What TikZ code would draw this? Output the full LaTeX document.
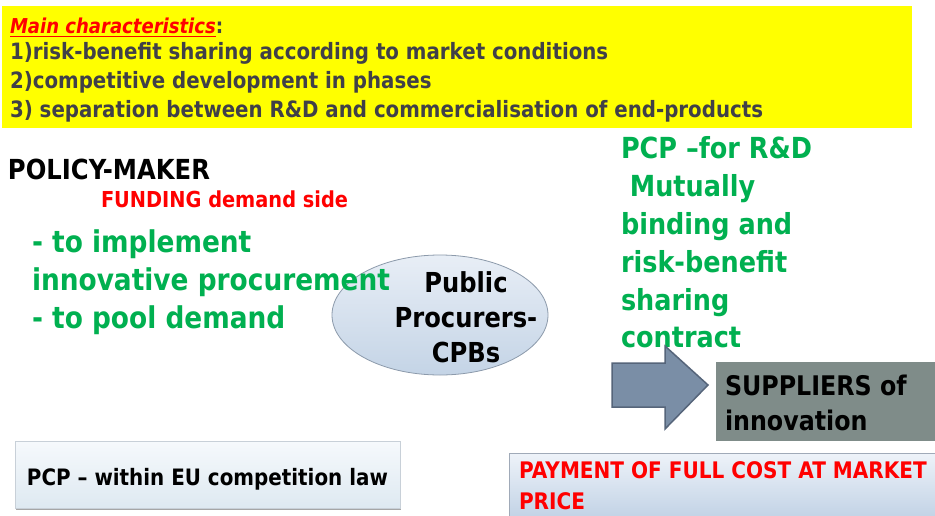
\documentclass[tikz,border=0pt]{standalone}
\usepackage{fontspec}
\setmainfont{DejaVu Sans}[FakeStretch=0.88]
\definecolor{grn}{HTML}{00B050}
\definecolor{ylw}{HTML}{FFFF00}
\definecolor{txtgray}{HTML}{404048}
\definecolor{suppl}{HTML}{7F8C89}
\definecolor{arrowfill}{HTML}{7A8EA6}
\definecolor{arrowline}{HTML}{56657A}
\definecolor{elltop}{HTML}{E8EEF6}
\definecolor{ellbot}{HTML}{C4D4E6}
\definecolor{ellline}{HTML}{8C9AAB}
\definecolor{pcptop}{HTML}{F6F9FC}
\definecolor{pcpbot}{HTML}{DEE9F1}
\definecolor{pcpline}{HTML}{C8D0D8}
\definecolor{paytop}{HTML}{EEF3F9}
\definecolor{paybot}{HTML}{C3D3E6}
\definecolor{payline}{HTML}{A0AAB8}
\tikzset{
  txt/.style={anchor=base west, inner sep=0pt, outer sep=0pt},
  ctxt/.style={anchor=base, inner sep=0pt, outer sep=0pt},
  yl/.style={txt, text=txtgray, font=\bfseries\fontsize{22.5}{26}\selectfont},
  gl/.style={txt, text=grn, font=\bfseries\fontsize{30}{36}\selectfont},
  gr/.style={txt, text=grn, font=\bfseries\fontsize{29}{35}\selectfont},
  el/.style={ctxt, text=black, font=\bfseries\fontsize{27.5}{32}\selectfont},
  sp/.style={txt, text=black, font=\bfseries\fontsize{27}{32}\selectfont},
}
\begin{document}
\begin{tikzpicture}[x=1pt,y=-1pt]
\useasboundingbox (0,0) rectangle (935,515);
\fill[white] (0,0) rectangle (935,515);
% yellow header
\fill[ylw] (2,6) rectangle (912,128);
\node[txt, text=red, font=\bfseries\itshape\fontsize{20.5}{24}\selectfont] (mc) at (10,33) {Main characteristics};
\node[txt, text=txtgray, font=\bfseries\fontsize{21}{24}\selectfont] (colon) at (mc.base east) {:};
\draw[red, line width=1pt] ([yshift=-3pt]mc.base west) -- ([yshift=-3pt]mc.base east);
\node[yl] (l1) at (10,59) {1)risk-benefit sharing according to market conditions};
\node[yl] (l2) at (10,88) {2)competitive development in phases};
\node[yl] (l3) at (10,117) {3) separation between R\&D and commercialisation of end-products};
% policy maker
\node[txt, text=black, font=\bfseries\fontsize{27.6}{32}\selectfont] (pm) at (8,179) {POLICY-MAKER};
\node[txt, text=red, font=\bfseries\fontsize{22}{26}\selectfont] (fund) at (101,207) {FUNDING demand side};
% ellipse
\shade[top color=elltop, bottom color=ellbot] (440,315) ellipse [x radius=108, y radius=60];
\draw[ellline, line width=0.8pt] (440,315) ellipse [x radius=108, y radius=60];
\node[el] (e1) at (466,292) {Public};
\node[el] (e2) at (466,327) {Procurers-};
\node[el] (e3) at (466,362) {CPBs};
% green left
\node[gl] (g1) at (32,252) {- to implement};
\node[gl] (g2) at (32,290) {innovative procurement};
\node[gl] (g3) at (32,328) {- to pool demand};
% green right
\node[gr] (r1) at (621,158) {PCP –for R\&D};
\node[gr] (r2) at (621,196) {\ Mutually};
\node[gr] (r3) at (621,234) {binding and};
\node[gr] (r4) at (621,272) {risk-benefit};
\node[gr] (r5) at (621,310) {sharing};
\node[gr] (r6) at (621,347) {contract};
% arrow
\filldraw[fill=arrowfill, draw=arrowline, line width=1.5pt, line join=miter] (612,363) -- (665,363) -- (665,346) -- (708,385) -- (665,429) -- (665,407) -- (612,407) -- cycle;
% suppliers
\fill[suppl] (716,362) rectangle (935,441);
\node[sp] (s1) at (725,395) {SUPPLIERS of};
\node[sp] (s2) at (725,430) {innovation};
% PCP box
\fill[gray!70] (16,441) rectangle (401,509.5);
\shade[top color=pcptop, bottom color=pcpbot] (15,441) rectangle (400,508);
\draw[pcpline, line width=0.6pt] (15,441) rectangle (400,508);
\node[txt, text=black, font=\bfseries\fontsize{22.6}{26}\selectfont] (pcp) at (27,485) {PCP – within EU competition law};
% payment box
\shade[top color=paytop, bottom color=paybot] (509,453) rectangle (935,516);
\draw[payline, line width=1pt] (935,453) -- (509,453) -- (509,516);
\node[txt, text=red, font=\bfseries\fontsize{22.8}{26}\selectfont] (pay1) at (519,478) {PAYMENT OF FULL COST AT MARKET};
\node[txt, text=red, font=\bfseries\fontsize{22.8}{26}\selectfont] (pay2) at (519,509) {PRICE};
\end{tikzpicture}
\end{document}
